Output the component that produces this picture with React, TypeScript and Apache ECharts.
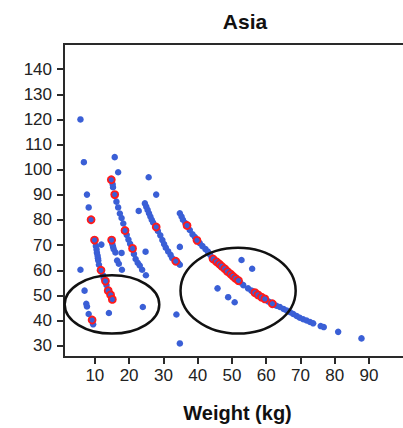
import React, { useEffect, useRef } from "react";
import * as echarts from "echarts";

const titleText = "Asia";
const xAxisTitle = "Weight (kg)";

const xTickValues = [10, 20, 30, 40, 50, 60, 70, 80, 90, 100];
const xLabelValues = [10, 20, 30, 40, 50, 60, 70, 80, 90];
const yTickValues = [30, 40, 50, 60, 70, 80, 90, 100, 110, 120, 130, 140];

// Blue points (weight, value)
const blueWeights = [
  5.8, 6.8, 15.8, 16.8, 7.7, 8.2, 25.7, 27.9, 22.8,
  15.2, 15.3, 16.3, 16.8, 17.3, 17.8, 18.3, 19.3, 19.8, 20.3, 21.4, 21.9, 22.5, 23.1, 23.8, 24.9,
  10.3, 10.5, 10.6, 10.8, 10.9, 11.0, 11.2, 11.9, 12.4, 12.6, 13.4,
  15.1, 15.3, 15.5, 16.0, 16.5, 17.0, 17.8, 17.9,
  5.8, 7.0, 7.5, 7.7, 8.2, 9.5, 14.1, 24.0, 24.8,
  24.6, 25.0, 25.4, 25.8, 26.2, 26.6, 27.0, 28.4, 29.1, 29.7, 30.2, 30.7, 31.4, 32.1, 32.6, 34.3, 34.8, 34.8,
  34.8, 35.3, 35.7, 36.4, 37.7, 38.5, 39.2, 40.6, 41.4, 42.3, 43.0, 43.6,
  44.1, 45.0, 45.9, 46.7, 47.5, 48.3, 49.1, 50.0, 50.7, 51.5, 52.4,
  53.3, 54.7, 55.7, 56.2, 57.1, 58.1, 59.1, 60.6, 61.2, 62.3, 63.0, 64.0, 65.1, 66.0, 67.0, 67.9, 68.9, 69.8, 70.8, 71.8, 72.8, 73.7, 75.9, 76.8, 81.0, 87.8,
  52.8, 55.9, 45.8, 48.9, 50.8, 33.8, 34.8,
];
const blueValues = [
  120, 103, 105, 99, 90.1, 85, 97, 90.1, 83.6,
  94.2, 93, 87.3, 85, 82.6, 80.8, 78.6, 74.1, 72.2, 70.5, 66.5, 64.5, 63, 61.9, 60.2, 58,
  69.7, 68.3, 67, 65.8, 64.8, 63.9, 62.2, 70.2, 58, 56.7, 54.1,
  70.4, 69.4, 68.4, 67.1, 63.9, 62.6, 66.9, 60.2,
  60.2, 51.9, 46.7, 45.6, 42.6, 38.5, 43, 45.4, 67.4,
  86.6, 85.3, 84, 82.7, 81.4, 80.1, 79, 75.6, 73.9, 72, 70.4, 69, 67.5, 66.1, 64.8, 63, 62.2, 69.3,
  82.7, 81.4, 80.1, 78.8, 76, 74.3, 73.2, 70.8, 69.6, 68.4, 67.4, 66.3,
  65.1, 64, 62.9, 62, 61.1, 60.1, 59, 58, 57.1, 56.3, 55.2,
  54.1, 52.8, 51.9, 51.5, 50.7, 49.8, 48.9, 47.6, 47.2, 46.3, 45.9, 45.4, 44.6, 44, 43.3, 42.6, 41.8, 41.1, 40.5, 40, 39.4, 38.9, 37.8, 37.4, 35.5, 32.9,
  64.1, 60.6, 52.8, 49.3, 47.3, 42.4, 30.9,
];

// Highlighted (red) points (weight, value)
const redWeights = [
  14.8, 15.8, 8.9, 18.8, 27.9, 21.0, 9.9, 14.9, 11.8, 13.1, 13.9, 14.6, 15.1, 9.2, 33.6,
  36.9, 39.8, 44.5, 45.5, 46.3, 47.0, 47.9, 48.7, 49.6, 50.3, 51.1, 51.9,
  56.7, 57.6, 58.6, 59.6, 61.8,
];
const redValues = [
  96, 90.1, 80.1, 75.8, 77.2, 68.7, 72, 72, 60, 55.7, 51.9, 50.2, 48.4, 40.2, 63.6,
  77.8, 71.9, 64.5, 63.4, 62.5, 61.6, 60.6, 59.5, 58.5, 57.6, 56.7, 55.9,
  51.1, 50.2, 49.3, 48.6, 46.7,
];

// Annotation ellipses (centre and radii in data units)
const ellipseCenterX = [15, 51.8];
const ellipseCenterY = [46.4, 51.9];
const ellipseRadiusX = [13.8, 16.8];
const ellipseRadiusY = [11.6, 17.1];

const FONT = "'Liberation Sans', Arial, Helvetica, sans-serif";

export default function App() {
  const ref = useRef<HTMLDivElement>(null);
  useEffect(() => {
    if (!ref.current) return;
    const chart = echarts.init(ref.current, null, { renderer: "svg" });
    const bluePts = blueWeights.map((w, i) => [w, blueValues[i]]);
    const redPts = redWeights.map((w, i) => [w, redValues[i]]);
    const ellipses = ellipseCenterX.map((cx, i) => [cx, ellipseCenterY[i], ellipseRadiusX[i], ellipseRadiusY[i]]);
    chart.setOption({
      animation: false,
      backgroundColor: "#ffffff",
      title: {
        text: titleText,
        left: 240,
        textAlign: "center",
        top: 6,
        textStyle: { fontFamily: FONT, fontSize: 21, fontWeight: "bold", color: "#111" },
      },
      grid: {
        left: 64,
        right: 15,
        top: 44,
        bottom: 65,
        show: true,
        borderColor: "#2a2a2a",
        borderWidth: 2,
        containLabel: false,
      },
      xAxis: {
        type: "value",
        min: 1,
        max: 100.5,
        splitLine: { show: false },
        axisLine: { show: false },
        axisTick: { show: true, customValues: xTickValues, length: 7, lineStyle: { color: "#2a2a2a", width: 2 } },
        axisLabel: {
          customValues: xLabelValues,
          margin: 10,
          fontFamily: FONT,
          fontSize: 17,
          color: "#222",
        },
        name: xAxisTitle,
        nameLocation: "middle",
        nameGap: 46,
        nameTextStyle: { fontFamily: FONT, fontSize: 20, fontWeight: "bold", color: "#111", padding: [0, 0, 0, 6] },
      },
      yAxis: {
        type: "value",
        min: 25.5,
        max: 150,
        splitLine: { show: false },
        axisLine: { show: false },
        axisTick: { show: true, customValues: yTickValues, length: 7, lineStyle: { color: "#2a2a2a", width: 2 } },
        axisLabel: {
          customValues: yTickValues,
          margin: 12,
          fontFamily: FONT,
          fontSize: 17,
          color: "#222",
        },
      },
      series: [
        {
          type: "scatter",
          data: bluePts,
          symbol: "circle",
          symbolSize: 6.5,
          itemStyle: { color: "#3a5fd6", opacity: 1 },
          z: 2,
        },
        {
          type: "scatter",
          data: redPts,
          symbol: "circle",
          symbolSize: 7,
          itemStyle: { color: "#3a5fd6", borderColor: "#ff1a1a", borderWidth: 1.8, opacity: 1 },
          z: 3,
        },
        {
          type: "custom",
          data: ellipses,
          z: 4,
          renderItem: (params: any, api: any) => {
            const c = api.coord([api.value(0), api.value(1)]);
            const s = api.size([api.value(2), api.value(3)]);
            return {
              type: "ellipse",
              shape: { cx: c[0], cy: c[1], rx: s[0], ry: s[1] },
              style: { fill: "none", stroke: "#111", lineWidth: 2.5 },
            };
          },
        },
      ],
    });
    return () => chart.dispose();
  }, []);
  return (
    <div style={{ width: 403, height: 428, position: "absolute", left: 0, top: 0, overflow: "hidden" }}>
      <div ref={ref} style={{ width: 420, height: 428 }} />
    </div>
  );
}
